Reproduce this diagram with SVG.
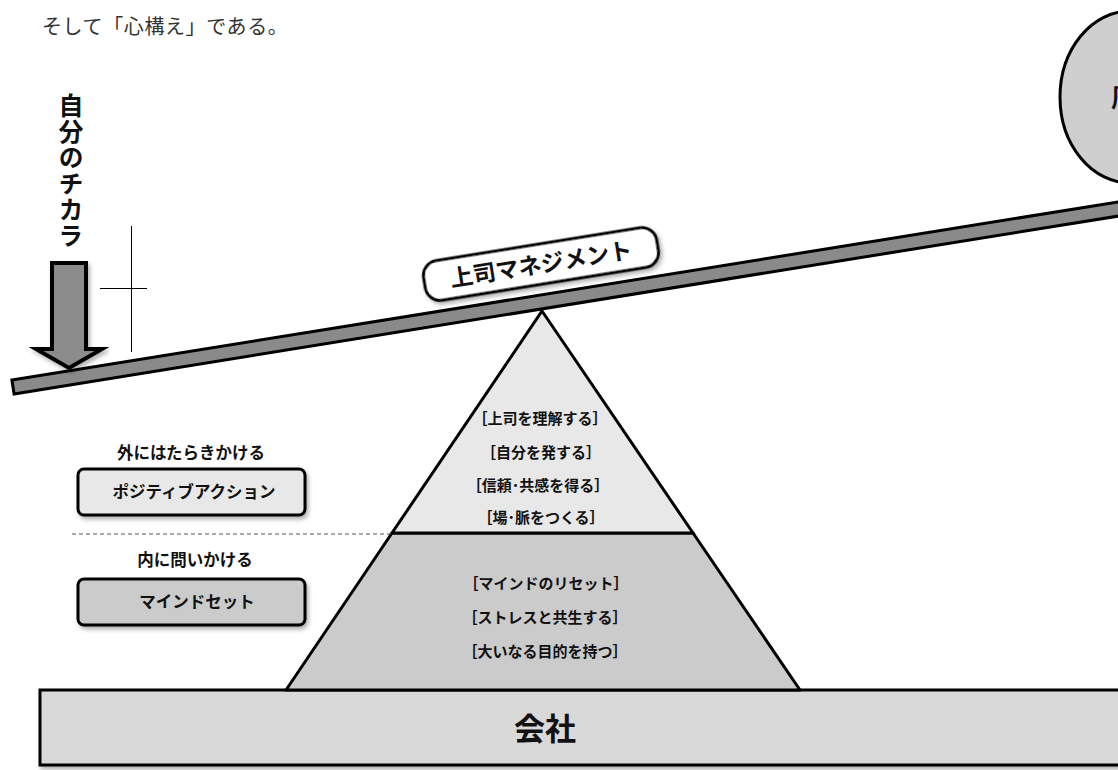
<svg xmlns="http://www.w3.org/2000/svg" width="1118" height="770" viewBox="0 0 1118 770">
<style>
  text { font-family: "Noto Sans CJK JP", "Noto Sans", sans-serif; }
  .b { font-weight: 700; fill: #111; }
  .pt { font-weight: 700; font-size: 15px; fill: #111; text-anchor: middle; }
  .lbl { font-weight: 700; font-size: 16.5px; fill: #111; text-anchor: middle; }
  .ol { stroke: #000; stroke-width: 3; }
</style>
<defs>
  <filter id="sh" x="-10%" y="-10%" width="120%" height="130%">
    <feDropShadow dx="2" dy="3" stdDeviation="2" flood-color="#000" flood-opacity="0.3"/>
  </filter>
</defs>

<rect width="1118" height="770" fill="#fff"/>

<text x="42" y="34" font-size="20" fill="#333" letter-spacing="0.6">そして「心構え」である。</text>

<g id="target-circle">
  <ellipse cx="1130" cy="97" rx="70" ry="86" fill="#cfcfcf" class="ol"/>
  <text x="1111" y="107" font-size="25" class="b">周</text>
</g>

<g id="own-power">
  <text x="71" y="93" font-size="25" class="b" writing-mode="vertical-rl" letter-spacing="1">自分のチカラ</text>
</g>

<g id="crosshair" stroke="#000" stroke-width="1">
  <line x1="131.5" y1="226" x2="131.5" y2="352"/>
  <line x1="100" y1="288.5" x2="147" y2="288.5"/>
</g>

<g id="beam">
  <rect x="13" y="380" width="1220" height="14" fill="#8a8a8a" class="ol" transform="rotate(-9.15 13 387)"/>
</g>

<g id="arrow">
  <polygon points="52,263 86,263 86,349 102,349 69,368 36,349 52,349" fill="#8c8c8c" stroke="#000" stroke-width="4" stroke-linejoin="miter" filter="url(#sh)"/>
</g>

<g id="label-boss" transform="translate(541 264) rotate(-9.15)">
  <rect x="-118" y="-20" width="236" height="40" rx="15" fill="#fff" class="ol" filter="url(#sh)"/>
  <text x="0" y="8.5" font-size="23" class="b" text-anchor="middle">上司マネジメント</text>
</g>

<g id="base">
  <rect x="40" y="690" width="1100" height="75" fill="#d9d9d9" class="ol" filter="url(#sh)"/>
  <text x="545" y="740" font-size="31" class="b" text-anchor="middle">会社</text>
</g>

<g id="pyramid-lower">
  <polygon points="392,533 693,533 800,690 286,690" fill="#cbcbcb" class="ol" stroke-linejoin="round"/>
  <text x="546" y="589" class="pt">［マインドのリセット］</text>
  <text x="545" y="623" class="pt">［ストレスと共生する］</text>
  <text x="545" y="657" class="pt">［大いなる目的を持つ］</text>
</g>

<g id="pyramid-upper">
  <polygon points="542,311 693,533 392,533" fill="#e8e8e8" class="ol" stroke-linejoin="miter"/>
  <text x="540" y="424" class="pt">［上司を理解する］</text>
  <text x="541" y="458" class="pt">［自分を発する］</text>
  <text x="538" y="491" class="pt">［信頼･共感を得る］</text>
  <text x="541" y="523" class="pt">［場･脈をつくる］</text>
</g>

<g id="connectors">
  <line x1="72" y1="534" x2="392" y2="534" stroke="#555" stroke-width="1" stroke-dasharray="4 3"/>
</g>

<g id="positive-action">
  <text x="191" y="459" class="lbl">外にはたらきかける</text>
  <rect x="78" y="469" width="227" height="46" rx="6" fill="#e8e8e8" class="ol" filter="url(#sh)"/>
  <text x="194" y="498" class="lbl">ポジティブアクション</text>
</g>

<g id="mindset">
  <text x="195" y="566" class="lbl">内に問いかける</text>
  <rect x="78" y="579" width="227" height="46" rx="6" fill="#cbcbcb" class="ol" filter="url(#sh)"/>
  <text x="197" y="608" class="lbl">マインドセット</text>
</g>
</svg>
